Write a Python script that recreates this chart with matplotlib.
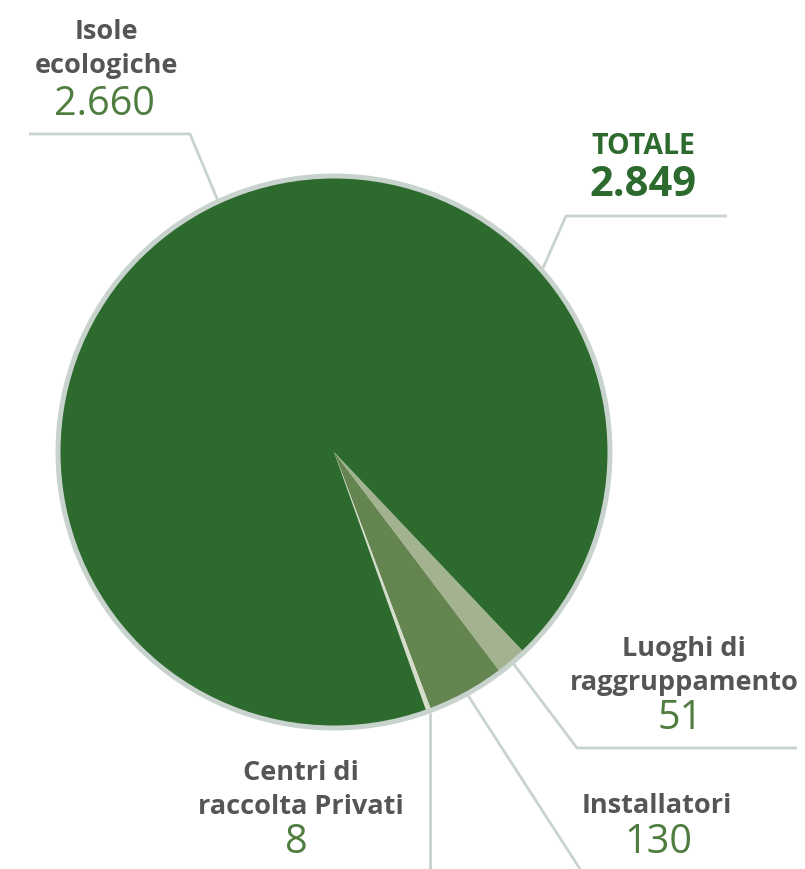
import numpy as np
import matplotlib.pyplot as plt
from matplotlib.patches import Circle

# data
categorie = ["Luoghi di\nraggruppamento", "Installatori", "Centri di\nraccolta Privati", "Isole\necologiche"]
valori = [51, 130, 8, 2660]
etichette_valori = ["51", "130", "8", "2.660"]
colori = ["#a3b28f", "#64854f", "#d6ddcb", "#2d6a2e"]
totale_label = "2.849"

W, H = 805, 869
fig = plt.figure(figsize=(W / 100, H / 100), dpi=100)
ax = fig.add_axes([0, 0, 1, 1])

def Y(y):
    # pixel row -> data y
    return H - y

cx, cy, r = 334, Y(452), 275
start = -46.5
wedges, _ = ax.pie(valori, colors=colori, startangle=start, counterclock=False,
                   center=(cx, cy), radius=r, frame=True,
                   wedgeprops=dict(linewidth=0))
ax.set_xlim(0, W)
ax.set_ylim(0, H)
ax.set_aspect("equal")
ax.axis("off")
ax.add_patch(Circle((cx, cy), r + 1, fill=False, ec="#c9d3ce", lw=3.6, zorder=5))

def bordo(w, frac=0.5):
    a = np.deg2rad(w.theta1 + (w.theta2 - w.theta1) * frac)
    return (cx + (r + 3) * np.cos(a), H - (cy + (r + 3) * np.sin(a)))

grigio = "#c9d3ce"
def linea(pts):
    xs = [p[0] for p in pts]
    ys = [Y(p[1]) for p in pts]
    ax.plot(xs, ys, color=grigio, lw=2.0, solid_capstyle="butt", zorder=1)

linea([(29, 134), (190, 134), (218, 201)])
linea([(727, 216), (566, 216), (543, 268)])
linea([bordo(wedges[0]), (577, 748), (797, 748)])
linea([bordo(wedges[1]), (580, 869)])
p = bordo(wedges[2])
linea([p, (p[0], 869)])

lab_kw = dict(fontfamily="Open Sans", fontweight="bold", color="#555555",
              fontsize=19.5, ha="center", va="center", linespacing=1.4)
val_kw = dict(fontfamily="Open Sans", color="#4f7d3f", fontsize=28.5,
              ha="center", va="center")

ax.text(106, Y(49), categorie[3], **lab_kw)
ax.text(104, Y(105), etichette_valori[3], **val_kw)

ax.text(684, Y(666), categorie[0], **lab_kw)
ax.text(680, Y(719), etichette_valori[0], **val_kw)

ax.text(657, Y(806), categorie[1], **lab_kw)
ax.text(658, Y(843), etichette_valori[1], **val_kw)

ax.text(301, Y(790), categorie[2], **lab_kw)
ax.text(296, Y(843), etichette_valori[2], **val_kw)

ax.text(643, Y(147), "TOTALE", fontfamily="Open Sans", fontweight="bold",
        color="#2d6a2e", fontsize=20.5, ha="center", va="center")
ax.text(643, Y(186), totale_label, fontfamily="Open Sans", fontweight="bold",
        color="#2d6a2e", fontsize=30, ha="center", va="center")

fig.savefig("out.png", dpi=100)
